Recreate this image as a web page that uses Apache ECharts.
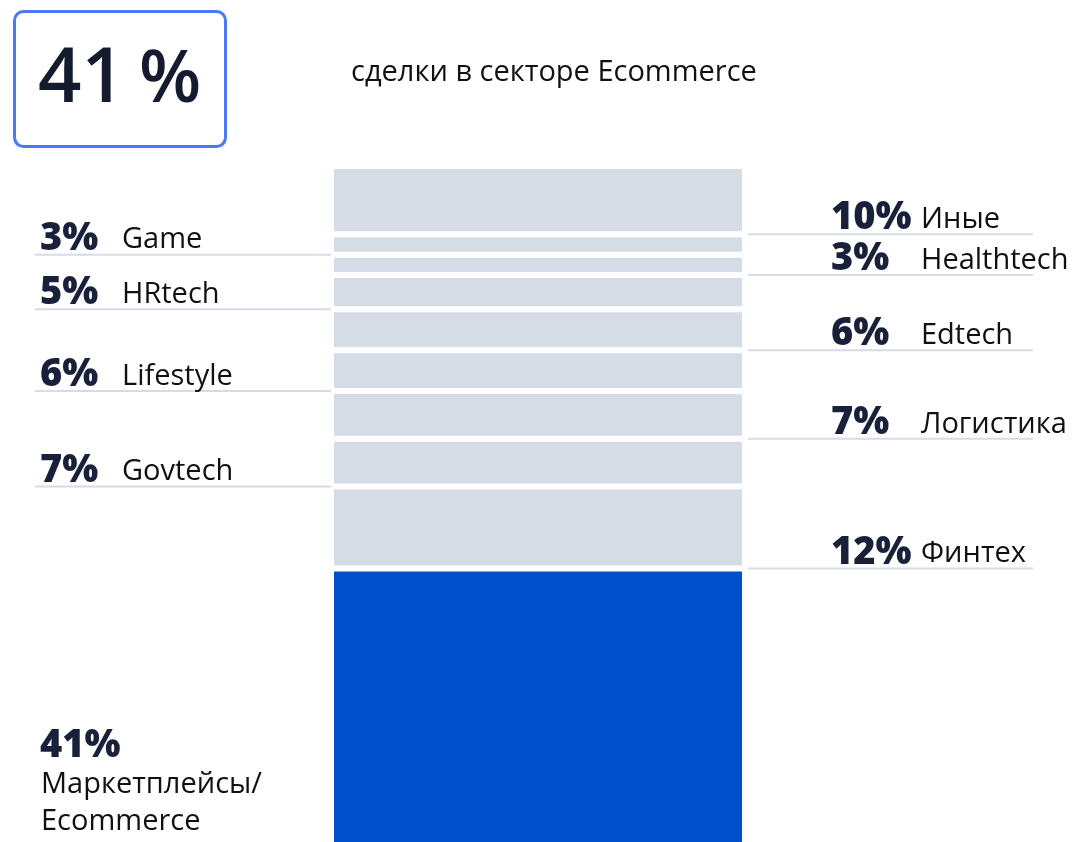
<!DOCTYPE html>
<html>
<head>
<meta charset="utf-8">
<script src="https://cdn.jsdelivr.net/npm/echarts@6/dist/echarts.min.js"></script>
<style>
  html, body { margin: 0; padding: 0; background: #fff; overflow: hidden; }
  #chart { width: 1076px; height: 842px; }
</style>
</head>
<body>
<div id="chart"></div>
<script>
// сегменты снизу вверх
const categories = ['Маркетплейсы/\nEcommerce', 'Финтех', 'Govtech', 'Логистика', 'Lifestyle', 'Edtech', 'HRtech', 'Healthtech', 'Game', 'Иные'];
const shares = [41, 12, 7, 7, 6, 6, 5, 3, 3, 10];
const sides = ['left', 'right', 'left', 'right', 'left', 'right', 'left', 'right', 'left', 'right'];
const headline = '41';
const headlineText = 'сделки в секторе Ecommerce';

const FONT = '"Open Sans", "Noto Sans", sans-serif';
const GRAY = '#d5dce6';
const BLUE = '#0050cb';
const DARK = '#19213a';

const chart = echarts.init(document.getElementById('chart'));

const series = shares.map((v, i) => ({
    name: categories[i],
    type: 'bar',
    stack: 'total',
    barWidth: '100%',
    silent: true,
    clip: false,
    itemStyle: {
        color: i === 0 ? BLUE : GRAY,
        borderColor: '#fff',
        borderWidth: 3
    },
    data: [v]
}));

chart.setOption({
    animation: false,
    grid: { left: 331, width: 414, top: 166, height: 682, outerBoundsMode: 'none' },
    xAxis: { type: 'category', data: [''], show: false },
    yAxis: { type: 'value', min: 0, max: 100, show: false },
    series: series
});

// baseline -> центр строки (verticalAlign: middle)
const mid = (baseline, size) => baseline - 0.36 * size;

const graphic = [
    {
        type: 'rect',
        shape: { x: 14.5, y: 11.5, width: 211, height: 135, r: 9 },
        style: { fill: '#fff', stroke: '#4c79f6', lineWidth: 3 }
    },
    {
        type: 'text', x: 38, y: mid(108, 76),
        style: { text: headline, font: '600 76px ' + FONT, fill: '#141b2e', verticalAlign: 'middle' }
    },
    {
        type: 'text', x: 139, y: mid(107, 72),
        style: { text: '%', font: '600 72px ' + FONT, fill: '#141b2e', verticalAlign: 'middle' }
    },
    {
        type: 'text', x: 351, y: mid(83, 29),
        style: { text: headlineText, font: '400 29px ' + FONT, fill: '#111', verticalAlign: 'middle' }
    }
];

let cum = 0;
shares.forEach((v, i) => {
    const yb = chart.convertToPixel({ yAxisIndex: 0 }, cum);
    cum += v;
    if (i === 0) {
        const names = categories[i].split('\n');
        // нижний блок подписи привязан к низу окна
        graphic.push(
            { type: 'text', x: 40, y: mid(760, 38), style: { text: v + '%', font: '800 38px ' + FONT, fill: DARK, verticalAlign: 'middle' } },
            { type: 'text', x: 41, y: mid(795, 29), style: { text: names[0], font: '400 29px ' + FONT, fill: '#111', verticalAlign: 'middle' } },
            { type: 'text', x: 41, y: mid(832, 29), style: { text: names[1], font: '400 29px ' + FONT, fill: '#111', verticalAlign: 'middle' } }
        );
        return;
    }
    const left = sides[i] === 'left';
    const x1 = left ? 35 : 748;
    const x2 = left ? 335 : 1033;
    const px = left ? 40 : 831;
    const nx = left ? 122 : 921;
    graphic.push(
        { type: 'line', shape: { x1: x1, y1: yb, x2: x2, y2: yb }, style: { stroke: GRAY, lineWidth: 2 } },
        { type: 'text', x: px, y: mid(yb - 2, 38), style: { text: v + '%', font: '800 38px ' + FONT, fill: DARK, verticalAlign: 'middle' } },
        { type: 'text', x: nx, y: mid(yb - 4, 29), style: { text: categories[i], font: '400 29px ' + FONT, fill: '#111', verticalAlign: 'middle' } }
    );
});

chart.setOption({ graphic: graphic });
</script>
</body>
</html>
